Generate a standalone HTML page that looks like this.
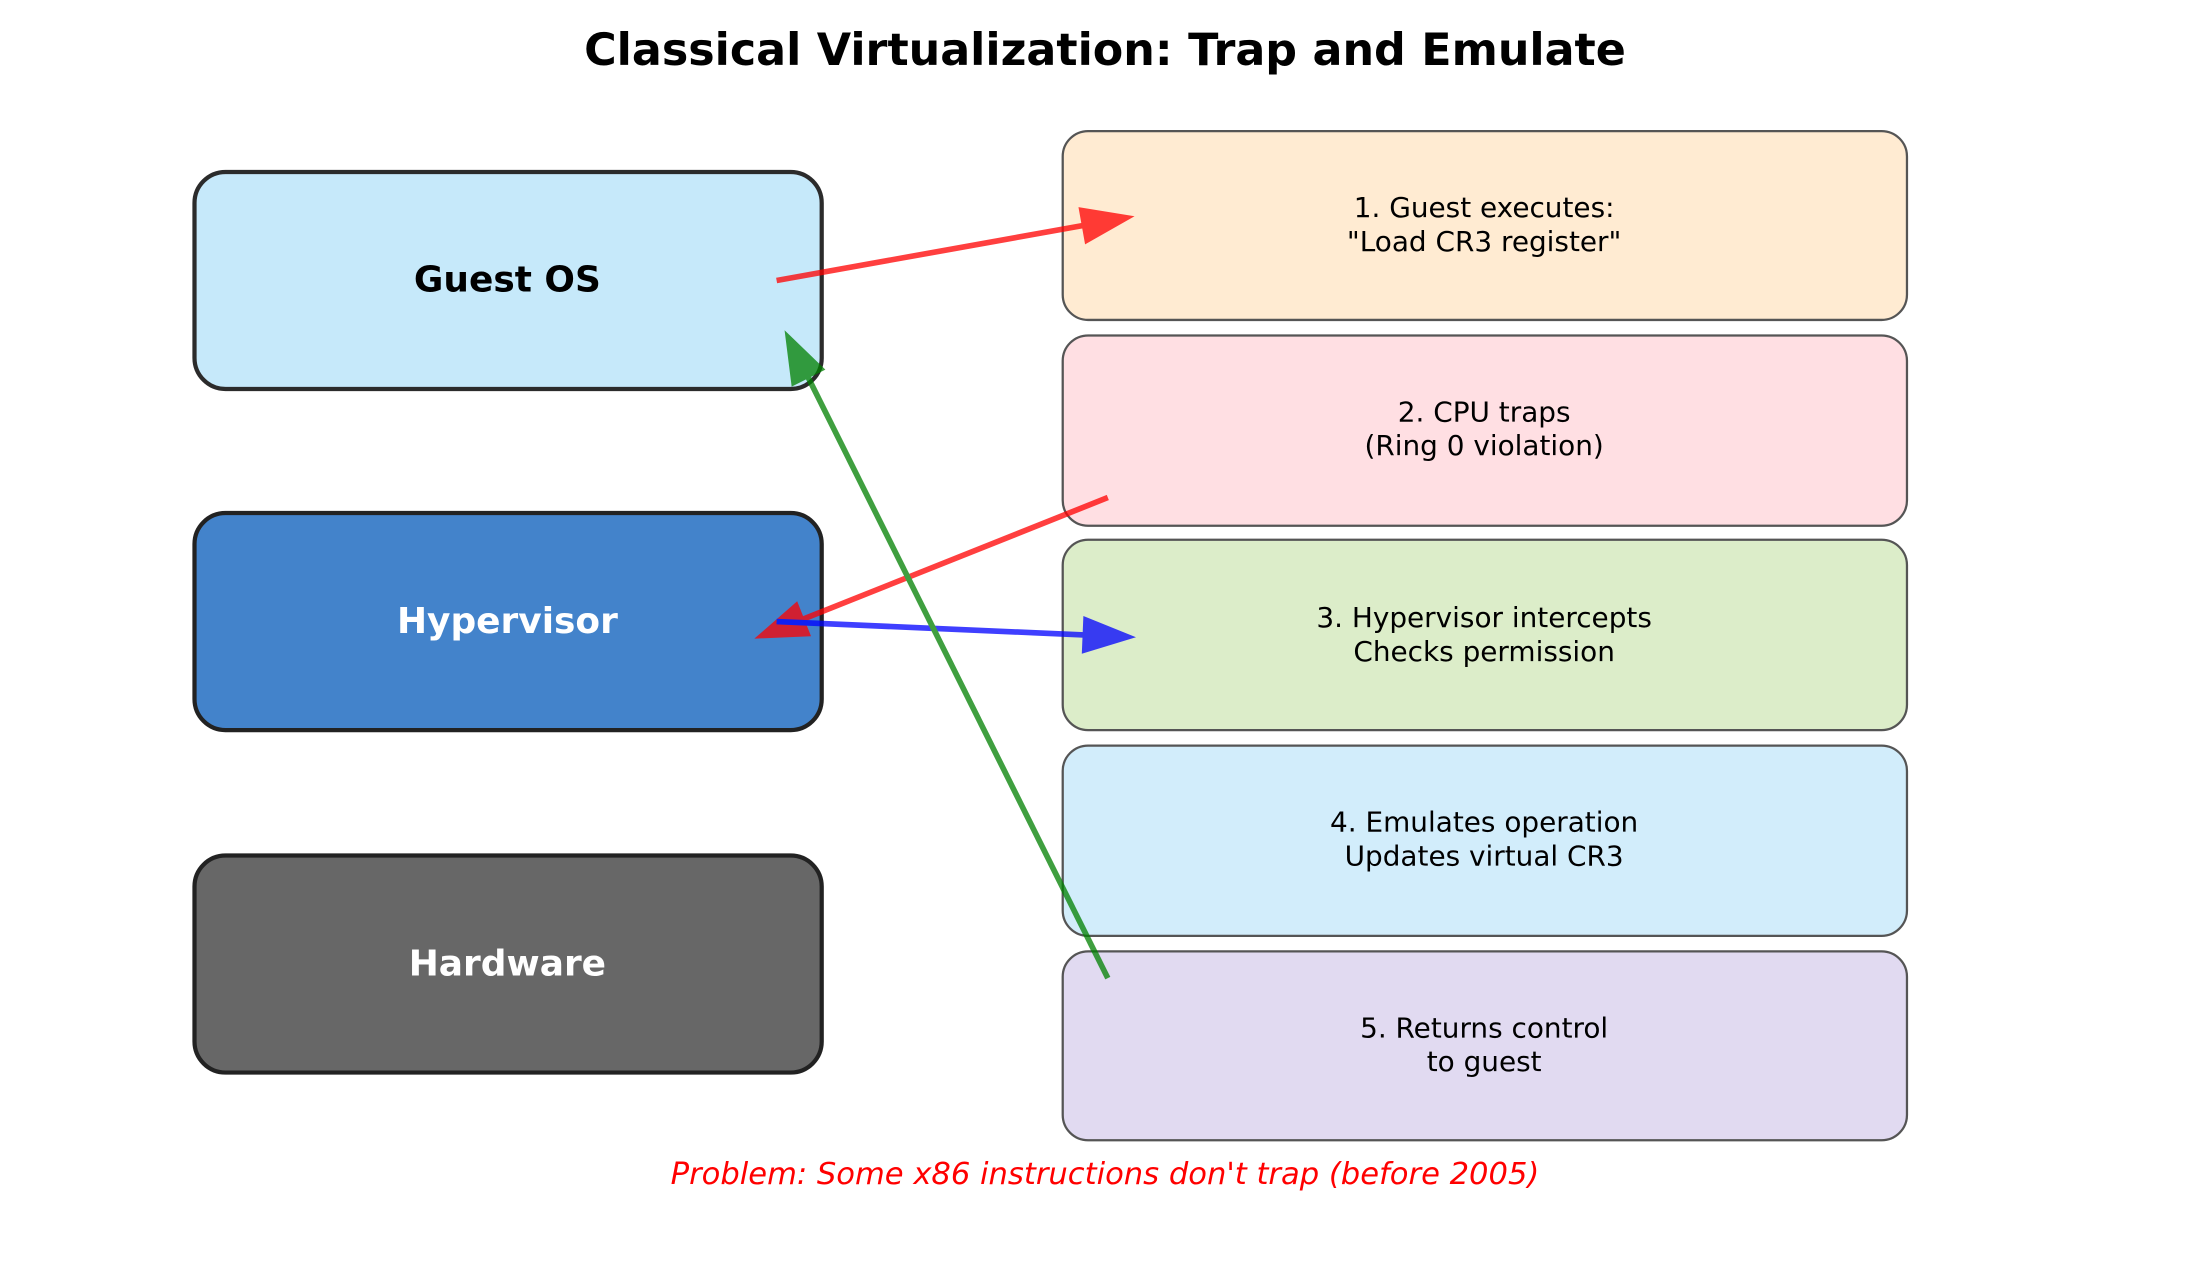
<!DOCTYPE html>
<html><head><meta charset="utf-8"><style>html,body{margin:0;padding:0;background:#fff}svg{display:block}</style></head>
<body>
<svg width="2210" height="1272" viewBox="0 0 1568 902.5" preserveAspectRatio="none" xmlns="http://www.w3.org/2000/svg" font-family="'DejaVu Sans','Liberation Sans',sans-serif">
<text x="784" y="46" text-anchor="middle" font-size="31.5" font-weight="bold">Classical Virtualization: Trap and Emulate</text>
<rect x="138" y="122" width="445" height="154" rx="22" fill="#c6e9fa" stroke="#2b2b2b" stroke-width="3"/>
<text x="360" y="207" text-anchor="middle" font-size="25.5" font-weight="bold">Guest OS</text>
<rect x="138" y="364" width="445" height="154" rx="22" fill="#4383cb" stroke="#222" stroke-width="3"/>
<text x="360" y="449" text-anchor="middle" font-size="25.5" font-weight="bold" fill="#fff">Hypervisor</text>
<rect x="138" y="607" width="445" height="154" rx="22" fill="#676767" stroke="#222" stroke-width="3"/>
<text x="360" y="692" text-anchor="middle" font-size="25.5" font-weight="bold" fill="#fff">Hardware</text>
<g stroke="#555" stroke-width="1.6">
<rect x="754" y="93" width="599" height="134" rx="18" fill="#ffebd2"/>
<rect x="754" y="238" width="599" height="135" rx="18" fill="#ffdfe3"/>
<rect x="754" y="383" width="599" height="135" rx="18" fill="#dcedc9"/>
<rect x="754" y="529" width="599" height="135" rx="18" fill="#d2edfb"/>
<rect x="754" y="675" width="599" height="134" rx="18" fill="#e1daf1"/>
</g>
<g font-size="19.8" text-anchor="middle" fill="#000">
<text x="1053" y="154">1. Guest executes:</text><text x="1053" y="178">"Load CR3 register"</text>
<text x="1053" y="299">2. CPU traps</text><text x="1053" y="323">(Ring 0 violation)</text>
<text x="1053" y="445">3. Hypervisor intercepts</text><text x="1053" y="469">Checks permission</text>
<text x="1053" y="590">4. Emulates operation</text><text x="1053" y="614">Updates virtual CR3</text>
<text x="1053" y="736">5. Returns control</text><text x="1053" y="760">to guest</text>
</g>
<g stroke-width="4" opacity="0.75" stroke-linejoin="miter">
<line x1="551" y1="199" x2="768.5" y2="160" stroke="#f00"/>
<polygon points="802,154 770.6,171.8 766.4,148.2" fill="#f00" stroke="#f00" stroke-width="2"/>
<line x1="786" y1="353" x2="569.6" y2="439.4" stroke="#f00"/>
<polygon points="538,452 574,450.5 565.2,428.3" fill="#f00" stroke="#f00" stroke-width="2"/>
<line x1="551" y1="441" x2="769" y2="450.5" stroke="#00f"/>
<polygon points="803,452 768.6,462.5 769.6,438.5" fill="#00f" stroke="#00f" stroke-width="2"/>
<line x1="786" y1="694" x2="573.2" y2="267.4" stroke="#008000"/>
<polygon points="558,237 583.9,262 562.5,272.8" fill="#008000" stroke="#008000" stroke-width="2"/>
</g>
<text x="784" y="840" text-anchor="middle" font-size="21.7" font-style="italic" fill="#f00">Problem: Some x86 instructions don't trap (before 2005)</text>
</svg>
</body></html>
